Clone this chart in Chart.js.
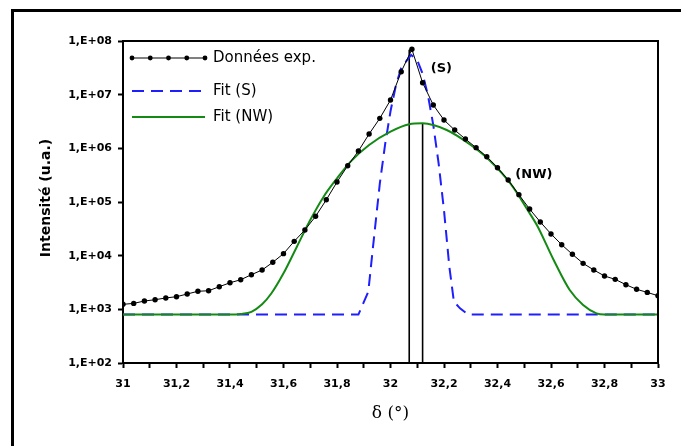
<!DOCTYPE html>
<html>
<head>
<meta charset="utf-8">
<script src="https://cdn.jsdelivr.net/npm/chart.js@4.4.1/dist/chart.umd.min.js"></script>
<style>
    html, body { margin: 0; padding: 0; background: #fff; }
    #wrap { position: relative; width: 681px; height: 446px; }
</style>
</head>
<body>
<div id="wrap"><canvas id="chart" width="681" height="446"></canvas></div>
<script>
// measured points (δ in degrees, intensity in a.u.)
const expX = [31, 31.04, 31.08, 31.12, 31.16, 31.2, 31.24, 31.28, 31.32, 31.36,
    31.4, 31.44, 31.48, 31.52, 31.56, 31.6, 31.64, 31.68, 31.72, 31.76,
    31.8, 31.84, 31.88, 31.92, 31.96, 32, 32.04, 32.08, 32.12, 32.16,
    32.2, 32.24, 32.28, 32.32, 32.36, 32.4, 32.44, 32.48, 32.52, 32.56,
    32.6, 32.64, 32.68, 32.72, 32.76, 32.8, 32.84, 32.88, 32.92, 32.96, 33];
const expY = [1240, 1290, 1430, 1510, 1630, 1720, 1930, 2170, 2220, 2640,
    3130, 3560, 4420, 5410, 7520, 10900, 18500, 30100, 54100, 110000,
    236000, 474000, 891000, 1850000, 3620000, 7940000, 26800000, 70000000, 16700000, 6410000,
    3370000, 2190000, 1490000, 1030000, 698000, 436000, 257000, 137000, 74000, 42400,
    25400, 16000, 10600, 7190, 5410, 4180, 3620, 2880, 2360, 2070, 1790];

// fit (NW)
const nwX = [31, 31.4, 31.44, 31.48, 31.52, 31.555, 31.6, 31.65, 31.7, 31.75,
    31.8, 31.85, 31.92, 32, 32.07, 32.12, 32.21, 32.3, 32.37, 32.45,
    32.52, 32.55, 32.61, 32.67, 32.72, 32.77, 32.8, 33];
const nwY = [800, 800, 820, 900, 1240, 1990, 4690, 14700, 46100, 125600,
    276000, 560000, 1153000, 2042000, 2805000, 2924000, 2193000, 1153000, 600000, 215000,
    62000, 35000, 8300, 2290, 1205, 843, 800, 800];

// fit (S)
const sX = [31, 31.88, 31.917, 31.94, 31.96, 31.98, 32, 32.02, 32.04, 32.077,
    32.1, 32.12, 32.14, 32.16, 32.18, 32.2, 32.22, 32.237, 32.26, 32.29, 33];
const sY = [800, 800, 2130, 26100, 219000, 1200000, 4900000, 14800000, 31600000, 55000000,
    44000000, 24500000, 9800000, 2700000, 520000, 70000, 6200, 1390, 1045, 800, 800];

// vertical markers
const markerX = [32.07, 32.12];
const markerTop = [69000000, 2924000];

const xTickValues = [31, 31.1, 31.2, 31.3, 31.4, 31.5, 31.6, 31.7, 31.8, 31.9, 32,
    32.1, 32.2, 32.3, 32.4, 32.5, 32.6, 32.7, 32.8, 32.9, 33];
const xTickLabels = ['31', '', '31,2', '', '31,4', '', '31,6', '', '31,8', '', '32',
    '', '32,2', '', '32,4', '', '32,6', '', '32,8', '', '33'];
const yTickValues = [1e2, 1e3, 1e4, 1e5, 1e6, 1e7, 1e8];
const yTickLabels = ['1,E+02', '1,E+03', '1,E+04', '1,E+05', '1,E+06', '1,E+07', '1,E+08'];

const seriesNames = ['Données exp.', 'Fit (S)', 'Fit (NW)'];

const colors = {
    black: '#000000',
    blue: '#1e1eff',
    green: '#148a14'
};

const boldSans = "'DejaVu Sans', sans-serif";

function toPoints(xs, ys) {
    return xs.map((x, i) => ({ x: x, y: ys[i] }));
}

const frameAndLabels = {
    id: 'frameAndLabels',
    beforeDraw(chart) {
        const ctx = chart.ctx;
        ctx.save();
        ctx.fillStyle = '#fff';
        ctx.fillRect(0, 0, chart.width, chart.height);
        // outer frame
        ctx.fillStyle = colors.black;
        ctx.fillRect(11, 9, 3, chart.height - 9);
        ctx.fillRect(11, 9, chart.width - 11, 3);
        ctx.restore();
    },
    afterDraw(chart) {
        const ctx = chart.ctx;
        const area = chart.chartArea;
        const xs = chart.scales.x;
        const ys = chart.scales.y;
        ctx.save();

        // top and right border of the plot box
        ctx.strokeStyle = colors.black;
        ctx.lineWidth = 2;
        ctx.beginPath();
        ctx.moveTo(area.left - 1, area.top);
        ctx.lineTo(area.right, area.top);
        ctx.lineTo(area.right, area.bottom + 1);
        ctx.stroke();

        // peak labels
        ctx.fillStyle = colors.black;
        ctx.font = 'bold 13px ' + boldSans;
        ctx.textAlign = 'center';
        ctx.textBaseline = 'middle';
        ctx.fillText('(S)', xs.getPixelForValue(32.19), ys.getPixelForValue(3.0e7));
        ctx.fillText('(NW)', xs.getPixelForValue(32.536), ys.getPixelForValue(3.2e5));

        // axis titles
        ctx.font = "17px 'DejaVu Serif', serif";
        ctx.fillText('δ (°)', (area.left + area.right) / 2, 414);
        ctx.save();
        ctx.translate(46, (area.top + area.bottom) / 2 - 4);
        ctx.rotate(-Math.PI / 2);
        ctx.font = 'bold 14px ' + boldSans;
        ctx.fillText('Intensité (u.a.)', 0, 0);
        ctx.restore();

        // legend
        const x0 = 132;
        const x1 = 205;
        const rows = [58, 91, 117];
        ctx.textAlign = 'left';
        ctx.font = "15px 'DejaVu Sans', sans-serif";

        ctx.lineWidth = 1;
        ctx.strokeStyle = colors.black;
        ctx.beginPath();
        ctx.moveTo(x0, rows[0]);
        ctx.lineTo(x1, rows[0]);
        ctx.stroke();
        for (let i = 0; i < 5; i++) {
            ctx.beginPath();
            ctx.arc(x0 + i * (x1 - x0) / 4, rows[0], 2.4, 0, Math.PI * 2);
            ctx.fill();
        }

        ctx.lineWidth = 2;
        ctx.strokeStyle = colors.blue;
        ctx.setLineDash([12, 7]);
        ctx.beginPath();
        ctx.moveTo(x0, rows[1]);
        ctx.lineTo(x1, rows[1]);
        ctx.stroke();
        ctx.setLineDash([]);

        ctx.strokeStyle = colors.green;
        ctx.beginPath();
        ctx.moveTo(x0, rows[2]);
        ctx.lineTo(x1, rows[2]);
        ctx.stroke();

        ctx.fillStyle = colors.black;
        seriesNames.forEach((name, i) => {
            ctx.fillText(name, 213, rows[i]);
        });

        ctx.restore();
    }
};

const datasets = [
    {
        label: seriesNames[0],
        data: toPoints(expX, expY),
        borderColor: colors.black,
        borderWidth: 1,
        pointRadius: 2.7,
        pointBackgroundColor: colors.black,
        pointBorderWidth: 0,
        tension: 0
    },
    {
        label: seriesNames[2],
        data: toPoints(nwX, nwY),
        borderColor: colors.green,
        borderWidth: 2,
        pointRadius: 0,
        cubicInterpolationMode: 'monotone'
    },
    {
        label: seriesNames[1],
        data: toPoints(sX, sY),
        borderColor: colors.blue,
        borderWidth: 2,
        borderDash: [12, 7],
        pointRadius: 0,
        tension: 0
    }
];

markerX.forEach((mx, i) => {
    datasets.push({
        label: 'marker' + i,
        data: [{ x: mx, y: yTickValues[0] }, { x: mx, y: markerTop[i] }],
        borderColor: colors.black,
        borderWidth: 1.6,
        pointRadius: 0
    });
});

new Chart(document.getElementById('chart').getContext('2d'), {
    type: 'line',
    data: { datasets: datasets },
    plugins: [frameAndLabels],
    options: {
        responsive: false,
        animation: false,
        devicePixelRatio: 1,
        layout: { padding: { top: 41, right: 23, left: 0, bottom: 0 } },
        plugins: {
            legend: { display: false },
            tooltip: { enabled: false }
        },
        scales: {
            x: {
                type: 'linear',
                min: 31,
                max: 33,
                afterBuildTicks(scale) {
                    scale.ticks = xTickValues.map((v) => ({ value: v }));
                },
                afterFit(scale) {
                    scale.height = 83;
                },
                ticks: {
                    autoSkip: false,
                    maxRotation: 0,
                    padding: 10,
                    color: colors.black,
                    font: { family: boldSans, size: 11, weight: 'bold' },
                    callback: (value, index) => xTickLabels[index]
                },
                grid: {
                    drawOnChartArea: false,
                    drawTicks: true,
                    tickLength: 5,
                    tickColor: colors.black,
                    tickWidth: 2
                },
                border: { color: colors.black, width: 2 }
            },
            y: {
                type: 'logarithmic',
                min: 100,
                max: 1e8,
                afterBuildTicks(scale) {
                    scale.ticks = yTickValues.map((v) => ({ value: v }));
                },
                afterFit(scale) {
                    scale.width = 123;
                },
                ticks: {
                    padding: 6,
                    color: colors.black,
                    font: { family: boldSans, size: 11, weight: 'bold' },
                    callback: (value, index) => yTickLabels[index]
                },
                grid: {
                    drawOnChartArea: false,
                    drawTicks: true,
                    tickLength: 5,
                    tickColor: colors.black,
                    tickWidth: 2
                },
                border: { color: colors.black, width: 2 }
            }
        }
    }
});
</script>
</body>
</html>
